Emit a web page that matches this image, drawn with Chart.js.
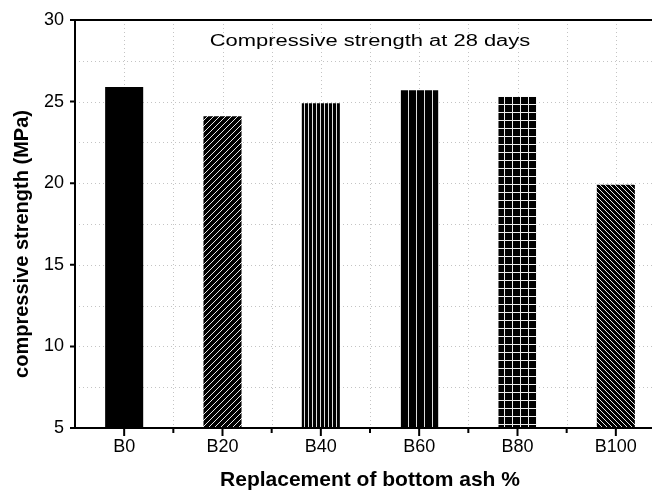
<!DOCTYPE html>
<html>
<head>
<meta charset="utf-8">
<script src="https://cdn.jsdelivr.net/npm/chart.js@4.4.0/dist/chart.umd.min.js"></script>
<style>
  html, body { margin: 0; padding: 0; background: #fff; overflow: hidden; }
  #wrap { width: 668px; height: 493px; }
</style>
</head>
<body>
<div id="wrap"><canvas id="StrengthChart" width="668" height="493"></canvas></div>
<script>
// data
const mixes = ['B0', 'B20', 'B40', 'B60', 'B80', 'B100'];
const strength28 = [25.9, 24.1, 24.9, 25.7, 25.3, 19.9];
const yTicks = [5, 10, 15, 20, 25, 30];
const chartTitle = 'Compressive strength at 28 days';
const xTitle = 'Replacement of bottom ash %';
const yTitle = 'compressive strength (MPa)';

// hatch patterns, white lines on black
function makePattern(w, h, draw) {
    const c = document.createElement('canvas');
    c.width = w; c.height = h;
    const g = c.getContext('2d');
    g.fillStyle = '#000';
    g.fillRect(0, 0, w, h);
    g.strokeStyle = '#e8e8e8';
    g.lineWidth = 1;
    draw(g, w, h);
    return g.createPattern(c, 'repeat');
}
const ctx = document.getElementById('StrengthChart').getContext('2d');
const fills = [
    '#000',
    makePattern(6, 6, (g, w, h) => {
        g.beginPath();
        g.moveTo(-1, h + 1); g.lineTo(w + 1, -1);
        g.moveTo(-1, 1); g.lineTo(1, -1);
        g.moveTo(w - 1, h + 1); g.lineTo(w + 1, h - 1);
        g.stroke();
    }),
    makePattern(4, 4, (g) => { g.fillStyle = '#ddd'; g.fillRect(0, 0, 1, 4); }),
    makePattern(8, 8, (g) => { g.fillStyle = '#ddd'; g.fillRect(0, 0, 1, 8); }),
    makePattern(8, 8, (g) => { g.fillStyle = '#eee'; g.fillRect(0, 0, 1, 8); g.fillRect(0, 0, 8, 1); }),
    makePattern(5, 5, (g, w, h) => {
        g.beginPath();
        g.moveTo(-1, -1); g.lineTo(w + 1, h + 1);
        g.moveTo(w - 1, -1); g.lineTo(w + 1, 1);
        g.moveTo(-1, h - 1); g.lineTo(1, h + 1);
        g.stroke();
    })
];

const framePlugin = {
    id: 'frame',
    beforeDatasetsDraw(chart) {
        const { ctx, chartArea: a, scales: { x, y } } = chart;
        ctx.save();
        ctx.strokeStyle = '#c4c4c4';
        ctx.lineWidth = 1;
        ctx.setLineDash([1, 3]);
        ctx.beginPath();
        for (let v = 7.5; v < 30; v += 2.5) {
            const py = Math.round(y.getPixelForValue(v)) + 0.5;
            ctx.moveTo(a.left, py); ctx.lineTo(a.right, py);
        }
        for (let i = 0; i < mixes.length; i++) {
            const px = Math.round(x.getPixelForValue(i)) + 0.5;
            ctx.moveTo(px, a.top); ctx.lineTo(px, a.bottom);
            const pb = Math.round(x.getPixelForValue(i + 0.5)) + 0.5;
            ctx.moveTo(pb, a.top); ctx.lineTo(pb, a.bottom);
        }
        ctx.stroke();
        ctx.restore();
    },
    afterDraw(chart) {
        const { ctx, chartArea: a, scales: { x, y } } = chart;
        ctx.save();
        ctx.strokeStyle = '#000';
        ctx.lineWidth = 2;
        ctx.beginPath();
        ctx.moveTo(a.left, a.top); ctx.lineTo(a.right + 5, a.top);
        ctx.moveTo(a.left, a.top - 1); ctx.lineTo(a.left, a.bottom + 1);
        ctx.moveTo(a.left - 1, a.bottom); ctx.lineTo(a.right + 5, a.bottom);
        // y ticks
        yTicks.forEach(v => {
            const py = y.getPixelForValue(v);
            ctx.moveTo(a.left - 5, py); ctx.lineTo(a.left, py);
        });
        // x ticks, major at categories, minor between
        for (let i = 0; i < mixes.length; i++) {
            const px = x.getPixelForValue(i);
            ctx.moveTo(px, a.bottom); ctx.lineTo(px, a.bottom + 8);
            const pb = x.getPixelForValue(i + 0.5);
            ctx.moveTo(pb, a.bottom); ctx.lineTo(pb, a.bottom + 5);
        }
        ctx.stroke();

        // title inside plot, stretched like the figure
        ctx.fillStyle = '#000';
        ctx.font = '16px "Liberation Sans", Arial, sans-serif';
        ctx.textAlign = 'center';
        ctx.textBaseline = 'middle';
        ctx.translate((a.left + a.right) / 2, a.top + 22);
        ctx.scale(1.37, 1);
        ctx.fillText(chartTitle, 0, 0);
        ctx.restore();

        // y axis title
        ctx.save();
        ctx.fillStyle = '#000';
        ctx.font = 'bold 20px "Liberation Sans", Arial, sans-serif';
        ctx.textAlign = 'center';
        ctx.textBaseline = 'middle';
        ctx.translate(22, 244);
        ctx.rotate(-Math.PI / 2);
        ctx.fillText(yTitle, 0, 0);
        ctx.restore();
    }
};

new Chart(ctx, {
    type: 'bar',
    data: {
        labels: mixes,
        datasets: [{
            label: chartTitle,
            data: strength28,
            backgroundColor: fills,
            borderWidth: 0,
            barPercentage: 0.387,
            categoryPercentage: 1
        }]
    },
    options: {
        responsive: false,
        animation: false,
        layout: { padding: { top: 20, right: 3, left: 0, bottom: 0 } },
        plugins: { legend: { display: false }, tooltip: { enabled: false } },
        scales: {
            x: {
                grid: { display: false },
                border: { display: false },
                ticks: {
                    color: '#000',
                    padding: 0,
                    font: { family: '"Liberation Sans", Arial, sans-serif', size: 18 }
                },
                title: {
                    display: true,
                    text: xTitle,
                    color: '#000',
                    padding: { top: 8, bottom: 0 },
                    font: { family: '"Liberation Sans", Arial, sans-serif', size: 21, weight: 'bold' }
                },
                afterFit(scale) { scale.height = 65; }
            },
            y: {
                min: 5,
                max: 30,
                grid: { display: false },
                border: { display: false },
                ticks: {
                    stepSize: 5,
                    color: '#000',
                    padding: 3,
                    font: { family: '"Liberation Sans", Arial, sans-serif', size: 18 }
                },
                afterFit(scale) { scale.width = 75; }
            }
        }
    },
    plugins: [framePlugin]
});
</script>
</body>
</html>
